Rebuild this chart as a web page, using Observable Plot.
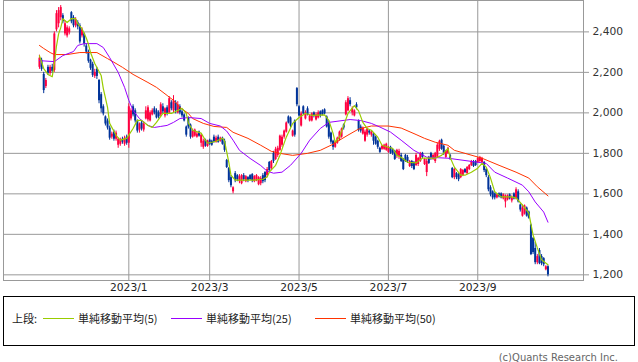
<!DOCTYPE html>
<html><head><meta charset="utf-8">
<script src="https://cdn.jsdelivr.net/npm/d3@7"></script>
<script src="https://cdn.jsdelivr.net/npm/@observablehq/plot@0.6"></script>
<style>
html,body{margin:0;padding:0;background:#fff;}
body{width:638px;height:362px;position:relative;overflow:hidden;font-family:"DejaVu Sans",sans-serif;}
#chart{position:absolute;left:0;top:0;}
#legend{position:absolute;left:3px;top:296px;width:630px;height:48px;border:1px solid #000;font-family:"Noto Sans CJK JP",sans-serif;font-size:11px;color:#222;}
#legend .t{position:absolute;top:14px;line-height:14px;white-space:nowrap;}
#legend .l{position:absolute;top:21px;height:1px;width:31px;}
#caption{position:absolute;right:20px;top:351px;font-size:10px;line-height:14px;color:#666;font-family:"DejaVu Sans",sans-serif;}
</style></head>
<body>
<div id="chart"></div>
<div id="legend"></div>
<div id="caption">(c)Quants Research Inc.</div>
<script>
// daily candles (trading-day order), Nov 2022 – Oct 2023
const open = [
2225,2260,2190,2130,2225,2195,2225,2210,2410,2440,
2470,2480,2390,2380,2395,2495,2470,2430,2445,2430,
2380,2390,2330,2300,2260,2240,2180,2215,2160,2090,
2030,1980,1960,1925,1880,1905,1870,1840,1845,1870,
1845,1880,1850,1970,2030,2010,1960,1915,1950,1915,
1970,1965,1960,1990,2020,2010,2000,1990,2030,1985,
2025,2000,2050,2010,2050,2000,2030,2005,1990,1930,
1975,1940,1880,1885,1880,1905,1850,1830,1865,1835,
1865,1860,1880,1855,1880,1860,1875,1860,1765,1725,
1680,1610,1700,1690,1660,1650,1690,1660,1680,1690,
1695,1660,1665,1645,1650,1690,1705,1690,1755,1725,
1800,1770,1790,1815,1840,1880,1905,1980,1975,1885,
1960,2120,2030,1935,2030,1970,2020,1960,1960,2000,
1965,1975,2005,2010,2015,1980,1950,1900,1860,1830,
1850,1870,1880,1940,1990,2010,2060,2000,1985,2040,
1960,1930,1895,1860,1890,1910,1890,1895,1880,1860,
1825,1820,1820,1815,1805,1830,1815,1810,1790,1785,
1790,1770,1790,1780,1735,1760,1755,1740,1745,1760,
1800,1745,1705,1780,1800,1770,1760,1780,1820,1865,
1835,1780,1800,1790,1725,1680,1700,1695,1680,1690,
1720,1700,1720,1740,1755,1760,1755,1760,1755,1755,
1720,1680,1630,1610,1600,1580,1600,1600,1575,1560,
1570,1595,1565,1600,1575,1610,1545,1490,1500,1530,
1510,1445,1380,1330,1260,1320,1290,1280,1225,1240];
const close = [
2270,2215,2110,2160,2195,2225,2205,2390,2490,2505,
2520,2450,2440,2420,2415,2450,2430,2460,2425,2350,
2410,2340,2300,2255,2220,2185,2200,2180,2060,2020,
1995,1945,1925,1875,1895,1870,1900,1870,1865,1855,
1875,1850,2030,2010,1990,1960,1910,1945,1920,1945,
2010,2025,2000,2010,2000,1975,1980,2040,2005,2020,
1995,2070,2020,2060,2010,2040,2000,1985,1960,1890,
1930,1880,1910,1915,1895,1885,1890,1860,1835,1860,
1845,1840,1855,1875,1855,1875,1845,1815,1730,1665,
1640,1630,1665,1670,1685,1690,1670,1685,1665,1670,
1665,1685,1690,1680,1675,1660,1665,1720,1715,1760,
1760,1820,1825,1885,1880,1910,1950,1950,1935,1910,
1890,2040,1985,1995,1995,2000,1990,1985,1995,1985,
1990,2000,1985,1990,1995,1930,1880,1855,1830,1855,
1875,1905,1920,1925,2050,2070,2040,2020,2010,2025,
1915,1910,1925,1905,1920,1900,1905,1860,1845,1830,
1805,1835,1840,1845,1830,1800,1800,1770,1815,1810,
1760,1720,1760,1760,1760,1735,1720,1790,1775,1800,
1780,1770,1760,1750,1775,1790,1800,1840,1860,1820,
1800,1810,1825,1770,1680,1720,1680,1670,1720,1715,
1705,1730,1740,1760,1735,1740,1775,1780,1775,1715,
1690,1620,1595,1580,1580,1595,1585,1580,1595,1590,
1590,1575,1580,1575,1620,1560,1520,1530,1540,1490,
1480,1300,1310,1260,1290,1255,1255,1250,1240,1200];
const high = [
2285,2270,2200,2170,2235,2235,2240,2400,2505,2520,
2530,2490,2455,2430,2425,2500,2480,2470,2455,2440,
2420,2395,2340,2310,2265,2250,2215,2225,2165,2100,
2040,1985,1970,1935,1905,1915,1910,1875,1875,1880,
1885,1890,2045,2020,2040,2020,1965,1950,1960,1955,
2030,2035,2010,2020,2030,2020,2010,2050,2045,2025,
2035,2080,2060,2085,2060,2055,2040,2015,1995,1935,
1980,1945,1920,1920,1905,1910,1895,1870,1870,1865,
1870,1865,1890,1885,1890,1880,1880,1870,1770,1730,
1690,1635,1710,1695,1695,1695,1700,1690,1685,1695,
1700,1690,1695,1685,1685,1700,1710,1730,1760,1765,
1810,1830,1835,1890,1890,1915,1955,1985,1980,1915,
1965,2125,2035,2005,2035,2010,2030,1990,2000,2005,
2000,2010,2010,2015,2020,1985,1960,1905,1865,1860,
1880,1910,1925,1945,2060,2080,2075,2030,2015,2050,
1965,1940,1930,1915,1925,1915,1910,1900,1885,1865,
1830,1840,1845,1850,1835,1835,1820,1815,1820,1820,
1800,1775,1795,1790,1765,1765,1760,1800,1780,1805,
1805,1775,1770,1785,1805,1795,1805,1850,1865,1870,
1840,1815,1830,1795,1730,1725,1705,1700,1725,1720,
1725,1735,1745,1765,1765,1765,1780,1785,1780,1760,
1725,1690,1640,1615,1605,1600,1605,1605,1600,1595,
1595,1600,1590,1605,1630,1620,1550,1545,1545,1535,
1515,1450,1385,1360,1300,1330,1300,1285,1245,1245];
const low = [
2215,2205,2095,2120,2185,2185,2195,2200,2400,2420,
2455,2440,2380,2370,2385,2440,2420,2420,2410,2340,
2370,2325,2290,2245,2210,2175,2170,2165,2045,2000,
1985,1935,1915,1865,1870,1860,1860,1825,1835,1845,
1835,1840,1825,1960,1980,1950,1900,1900,1910,1905,
1965,1955,1955,1985,1990,1970,1970,1980,1995,1975,
1985,1995,2010,2000,1995,1995,1990,1975,1955,1880,
1920,1870,1875,1880,1875,1880,1830,1820,1830,1830,
1840,1835,1850,1850,1850,1855,1840,1805,1725,1655,
1630,1600,1655,1660,1650,1645,1660,1655,1655,1665,
1655,1655,1660,1640,1640,1650,1655,1680,1705,1715,
1750,1765,1780,1810,1830,1870,1900,1945,1925,1880,
1880,2030,1980,1930,1990,1965,1985,1955,1955,1975,
1960,1970,1975,1985,1990,1925,1870,1845,1815,1825,
1845,1860,1875,1915,1985,2005,2030,1985,1980,2015,
1905,1900,1890,1855,1880,1890,1880,1840,1840,1820,
1800,1815,1815,1810,1800,1795,1790,1765,1775,1770,
1755,1715,1755,1750,1730,1725,1715,1735,1735,1755,
1775,1740,1685,1745,1765,1765,1750,1775,1810,1815,
1790,1775,1795,1765,1675,1670,1670,1660,1675,1685,
1700,1695,1715,1735,1730,1735,1750,1755,1750,1705,
1680,1610,1585,1570,1570,1575,1580,1575,1570,1530,
1565,1570,1555,1570,1570,1555,1510,1485,1495,1485,
1475,1295,1300,1250,1250,1250,1245,1240,1220,1190];

// moving averages (trading-day index, value)
const ma5Idx = [0,2,4,6,7,8,9,10,11,13,15,17,18,20,22,23,24,26,29,30,32,33,36,38,41,44,46,48,51,53,55,58,62,65,67,69,70,72,76,78,79,83,86,87,89,90,92,97,101,105,107,108,111,113,116,119,122,125,128,134,136,138,139,141,143,145,148,150,152,154,156,159,161,164,166,168,170,173,177,180,183,186,189,192,193,195,198,200,203,206,208,210,212,214,217,222,224,227,230,232,234,236,239];
const ma5Val = [2283,2219,2190,2178,2243,2330,2390,2420,2465,2446,2465,2465,2441,2416,2370,2340,2298,2244,2185,2121,2027,1948,1889,1865,1874,1923,1963,1963,1938,1928,1953,1997,1997,2012,2022,1997,1950,1914,1900,1865,1850,1860,1875,1860,1756,1692,1668,1668,1668,1672,1683,1707,1741,1790,1880,1948,1977,1997,1988,1990,1963,1899,1855,1880,1938,1997,2036,2010,1953,1923,1914,1880,1840,1830,1825,1790,1781,1756,1753,1776,1776,1776,1790,1825,1781,1732,1692,1692,1707,1727,1751,1732,1678,1610,1585,1585,1580,1545,1505,1397,1333,1274,1250];
const ma25Idx = [0,7,11,16,18,21,27,30,33,37,40,42,44,47,51,54,57,60,63,66,70,76,80,85,88,91,94,99,104,107,110,114,118,123,127,132,136,146,151,156,160,165,170,176,182,192,206,210,214,220,227,230,233,237,239];
const ma25Val = [2258,2253,2283,2303,2333,2342,2342,2323,2273,2200,2126,2062,2012,1972,1938,1928,1933,1938,1953,1972,1977,1972,1948,1935,1910,1865,1815,1775,1740,1712,1702,1707,1741,1800,1865,1923,1953,1967,1962,1948,1930,1905,1865,1815,1781,1776,1756,1750,1707,1678,1643,1610,1560,1510,1460];
const ma50Idx = [0,2,5,7,13,19,24,27,32,35,39,44,51,55,60,63,66,70,72,77,82,88,91,98,104,109,113,119,126,132,138,141,145,150,156,164,170,177,181,186,192,195,208,216,224,230,234,239];
const ma50Val = [2333,2318,2298,2288,2288,2298,2298,2298,2268,2250,2225,2190,2150,2126,2086,2062,2027,1997,1972,1948,1933,1928,1904,1874,1840,1810,1800,1790,1800,1815,1845,1865,1890,1920,1935,1935,1925,1893,1874,1855,1840,1815,1776,1741,1707,1678,1635,1590];

// axis ticks
const xTickIdx = [42,80,122,164,206];
const xTickLabels = ["2023/1","2023/3","2023/5","2023/7","2023/9"];
const yTicks = [1200,1400,1600,1800,2000,2200,2400];

// legend
const legendItems = [
  {label:"単純移動平均(5)", color:"#99cc00"},
  {label:"単純移動平均(25)", color:"#9900ff"},
  {label:"単純移動平均(50)", color:"#ff3300"}
];

const UP = "#ff0040", DOWN = "#003399", GRID = "#999999";
const candles = close.map((c,i)=>({i, o:open[i], h:high[i], l:low[i], c}));
const col = d => d.c >= d.o ? UP : DOWN;
const ma = (idx, val) => idx.map((x,k)=>({x, y:val[k]}));

const chart = Plot.plot({
  width: 638, height: 295,
  marginLeft: 3, marginRight: 55, marginTop: 0, marginBottom: 15,
  x: {domain: [-16.9, 255.7]},
  y: {domain: [1172, 2555]},
  color: {type: "identity"},
  style: {fontFamily: "DejaVu Sans", fontSize: "10.7px", background: "#fff"},
  marks: [
    Plot.gridX(xTickIdx, {stroke: GRID, strokeOpacity: 1}),
    Plot.gridY(yTicks, {stroke: GRID, strokeOpacity: 1}),
    Plot.frame({stroke: GRID}),
    Plot.axisY(yTicks, {anchor: "right", tickSize: 5, tickPadding: 4, tickFormat: d3.format(","), stroke: GRID, fill: "#333", fontSize: 10.7}),
    Plot.axisX(xTickIdx, {anchor: "bottom", tickSize: 0, tickPadding: 3, tickFormat: d => xTickLabels[xTickIdx.indexOf(d)], fill: "#222", fontSize: 10.7}),
    Plot.ruleX(candles, {x: "i", y1: "l", y2: "h", stroke: col, strokeWidth: 1}),
    Plot.ruleX(candles, {x: "i", y1: "o", y2: "c", stroke: col, strokeWidth: 2}),
    Plot.line(ma(ma50Idx, ma50Val), {x: "x", y: "y", stroke: "#ff3300", strokeWidth: 1}),
    Plot.line(ma(ma25Idx, ma25Val), {x: "x", y: "y", stroke: "#9900ff", strokeWidth: 1}),
    Plot.line(ma(ma5Idx, ma5Val), {x: "x", y: "y", stroke: "#99cc00", strokeWidth: 1.2})
  ]
});
document.getElementById("chart").appendChild(chart);

// legend
const lg = document.getElementById("legend");
const pos = [{line:39, text:74},{line:167, text:202},{line:311, text:346}];
const head = document.createElement("span");
head.className = "t"; head.style.left = "8px"; head.textContent = "上段:";
lg.appendChild(head);
legendItems.forEach((it, k) => {
  const ln = document.createElement("div");
  ln.className = "l"; ln.style.left = pos[k].line + "px"; ln.style.background = it.color;
  lg.appendChild(ln);
  const t = document.createElement("span");
  t.className = "t"; t.style.left = pos[k].text + "px"; t.textContent = it.label;
  lg.appendChild(t);
});
</script>
</body></html>
